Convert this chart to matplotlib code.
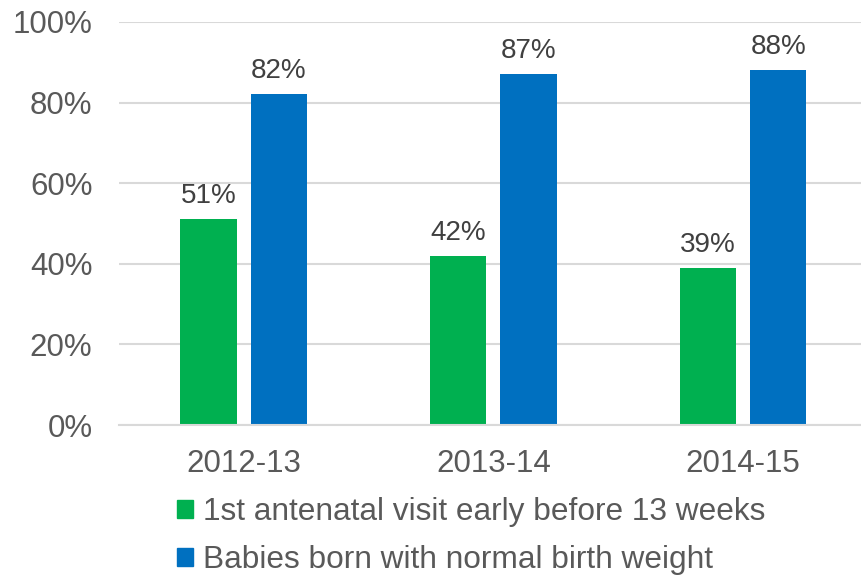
import numpy as np
import matplotlib.pyplot as plt
from matplotlib.patches import Patch

plt.rcParams['font.family'] = ['Liberation Sans', 'DejaVu Sans']

years = ['2012-13', '2013-14', '2014-15']
early_visit = [51, 42, 39]
normal_weight = [82, 87, 88]
series_names = ['1st antenatal visit early before 13 weeks',
                'Babies born with normal birth weight']
colors = ['#00B050', '#0070C0']
text_color = '#595959'

fig = plt.figure(figsize=(8.61, 5.76), dpi=100)
ax = fig.add_axes([0.138, 0.262, 0.87, 0.7])

x = np.arange(len(years))
w = 0.225
gap = 0.057
off = (w + gap) / 2
b1 = ax.bar(x - off, early_visit, w, color=colors[0])
b2 = ax.bar(x + off, normal_weight, w, color=colors[1])

for bars, vals in [(b1, early_visit), (b2, normal_weight)]:
    for b, v in zip(bars, vals):
        ax.text(b.get_x() + b.get_width() / 2, v + 2.5, f'{v}%',
                ha='center', va='bottom', fontsize=20, color='#404040')

ax.set_xlim(-0.5, 2.5)
ax.set_ylim(0, 100)
ax.set_yticks(range(0, 101, 20))
ax.set_yticklabels([f'{t}%' for t in range(0, 101, 20)])
ax.set_xticks(x)
ax.set_xticklabels(years)
ax.tick_params(axis='both', length=0, labelsize=22.5, colors=text_color)
ax.tick_params(axis='x', pad=17)
ax.tick_params(axis='y', pad=19)
ax.yaxis.grid(True, color='#D9D9D9', linewidth=1.5)
ax.set_axisbelow(True)
for s in ['top', 'right', 'left']:
    ax.spines[s].set_visible(False)
ax.spines['bottom'].set_color('#D9D9D9')
ax.spines['bottom'].set_linewidth(1.5)

handles = [Patch(color=c, label=n) for c, n in zip(colors, series_names)]
leg = fig.legend(handles=handles, loc='upper left', bbox_to_anchor=(0.206, 0.137),
                 frameon=False, fontsize=22.8, handlelength=0.5, handleheight=0.5,
                 handletextpad=0.3, labelspacing=0.58, borderpad=0, borderaxespad=0)
for t in leg.get_texts():
    t.set_color(text_color)

fig.savefig('out.png', dpi=100)
